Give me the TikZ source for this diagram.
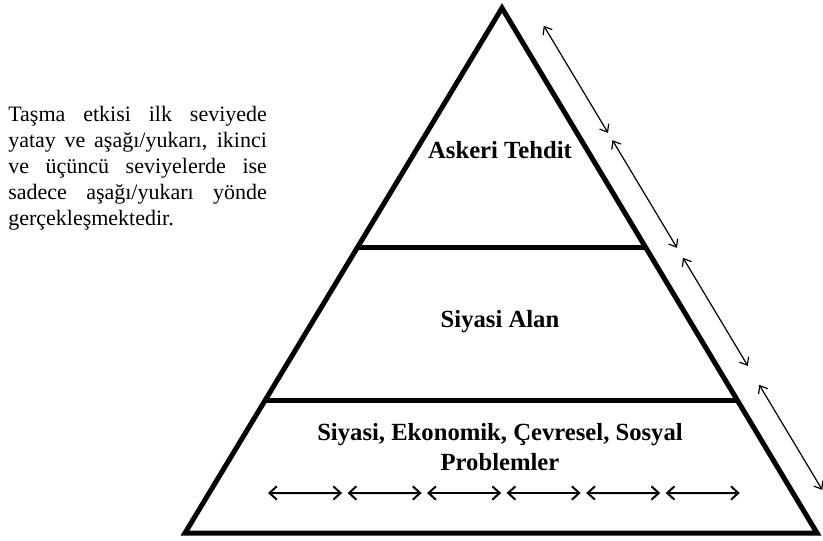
\documentclass[tikz,border=0pt]{standalone}
\usepackage{fontspec}
\setmainfont{Liberation Serif}
\usetikzlibrary{calc,arrows.meta}

\tikzset{
  layer/.style={line width=3.75pt},
  sidearrow/.style={line width=0.9pt,
    {Straight Barb[length=5pt,width=8pt]}-{Straight Barb[length=5pt,width=8pt]}},
  flatarrow/.style={line width=1.5pt,
    {Straight Barb[length=5.5pt,width=10pt]}-{Straight Barb[length=5.5pt,width=10pt]}},
  levellabel/.style={font=\fontsize{18.5}{22}\selectfont\bfseries, align=center},
}

\begin{document}
\begin{tikzpicture}[x=0.75pt,y=-0.75pt]
  \useasboundingbox (0,0) rectangle (823,541);

  \coordinate (apex) at (502,8);
  \coordinate (bl) at (185,533);
  \coordinate (br) at (817,533);
  \draw[layer, line join=miter] (apex) -- (bl) -- (br) -- cycle;

  \coordinate (l1) at ($(apex)!0.457!(bl)$);
  \coordinate (r1) at ($(apex)!0.457!(br)$);
  \coordinate (l2) at ($(apex)!0.747!(bl)$);
  \coordinate (r2) at ($(apex)!0.747!(br)$);
  \draw[layer] (l1) -- (r1);
  \draw[layer] (l2) -- (r2);

  \node[levellabel] (askeri) at (500,150) {Askeri Tehdit};
  \node[levellabel] (siyasi) at (500,322) {Siyasi Alan};
  \node[levellabel] (sorunlar) at (500,447) {Siyasi, Ekonomik, Çevresel, Sosyal\\Problemler};

  \coordinate (hl) at (268,493);
  \coordinate (hr) at (740,493);
  \foreach \i in {0,...,5}
    \draw[flatarrow] ($(hl)!{\i*0.1685}!(hr)$) -- ($(hl)!{\i*0.1685+0.157}!(hr)$);

  \coordinate (sa) at ($(apex)!20pt!90:(br)$);
  \coordinate (sb) at ($(br)!20pt!-90:(apex)$);
  \foreach \s/\e in {0.060/0.264, 0.278/0.483, 0.502/0.708, 0.744/0.944}
    \draw[sidearrow] ($(sa)!\s!(sb)$) -- ($(sa)!\e!(sb)$);

  \node[text width=194pt, align=justify, inner sep=0pt, anchor=west,
        font=\fontsize{16.5}{19.5}\selectfont] (aciklama) at (8,168)
    {Taşma etkisi ilk seviyede\linebreak yatay ve aşağı/yukarı, ikinci\linebreak
     ve üçüncü seviyelerde ise\linebreak sadece aşağı/yukarı yönde\linebreak
     gerçekleşmektedir.};
\end{tikzpicture}
\end{document}
